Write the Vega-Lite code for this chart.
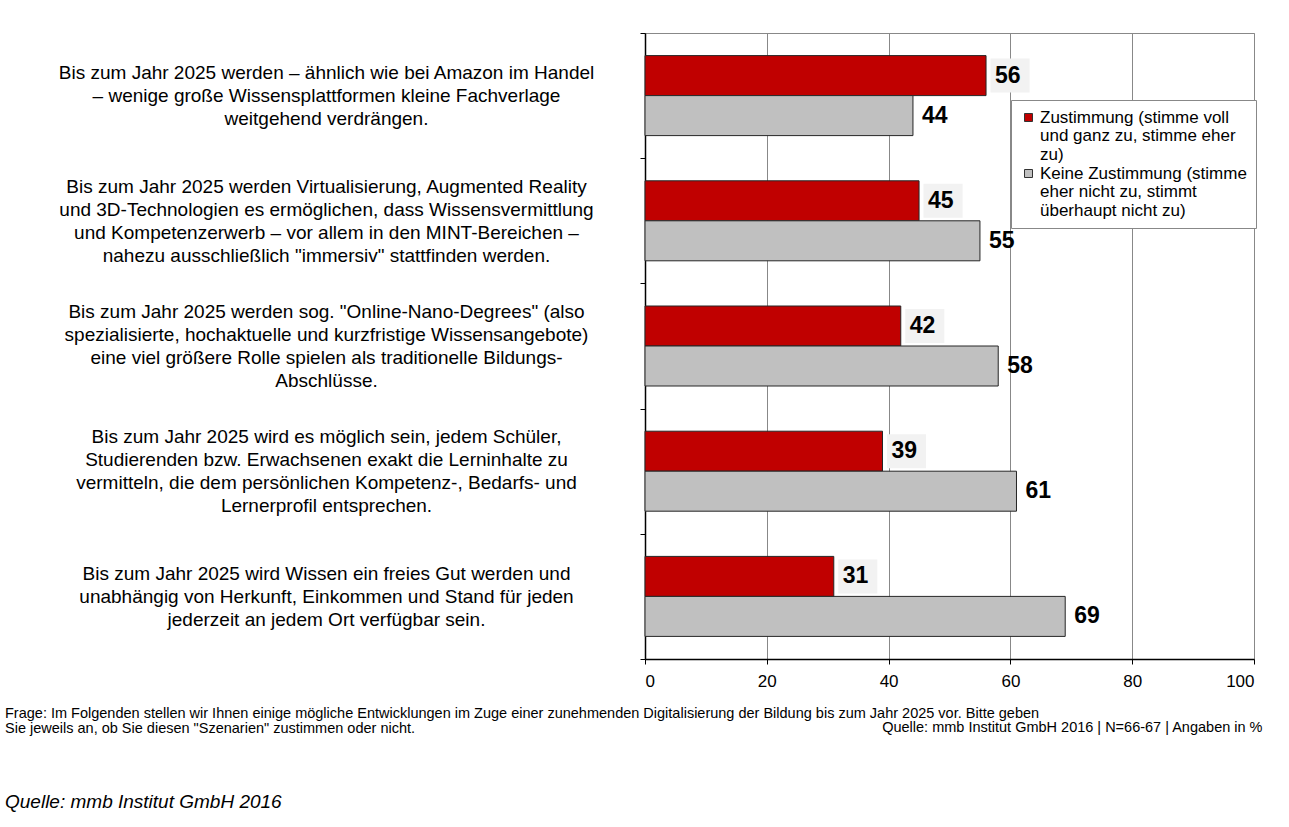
{
  "$schema": "https://vega.github.io/schema/vega-lite/v6.json",
  "width": 609,
  "height": 626,
  "autosize": {"type": "none"},
  "padding": {"left": 645, "top": 33, "right": 35, "bottom": 168},
  "background": "white",
  "config": {
    "font": "Liberation Sans",
    "view": {"stroke": "#888888", "strokeWidth": 1},
    "style": {"guide-label": {"lineHeight": 18.5}}
  },
  "title": {
    "text": ["Frage: Im Folgenden stellen wir Ihnen einige mögliche Entwicklungen im Zuge einer zunehmenden Digitalisierung der Bildung bis zum Jahr 2025 vor. Bitte geben", "Sie jeweils an, ob Sie diesen \"Szenarien\" zustimmen oder nicht."],
    "orient": "bottom",
    "anchor": "start",
    "frame": "group",
    "dx": -640,
    "offset": -27,
    "fontSize": 14.5,
    "fontWeight": "normal",
    "lineHeight": 15,
    "color": "#000000",
    "subtitle": "Quelle: mmb Institut GmbH 2016",
    "subtitleFont": "Liberation Sans",
    "subtitleFontStyle": "italic",
    "subtitleFontSize": 19,
    "subtitleColor": "#000000",
    "subtitlePadding": 57
  },
  "data": {
    "values": [
      {"statement": "Bis zum Jahr 2025 werden – ähnlich wie bei Amazon im Handel|– wenige große Wissensplattformen kleine Fachverlage|weitgehend verdrängen.", "series": "Zustimmung", "value": 56},
      {"statement": "Bis zum Jahr 2025 werden – ähnlich wie bei Amazon im Handel|– wenige große Wissensplattformen kleine Fachverlage|weitgehend verdrängen.", "series": "Keine Zustimmung", "value": 44},
      {"statement": "Bis zum Jahr 2025 werden Virtualisierung, Augmented Reality|und 3D-Technologien es ermöglichen, dass Wissensvermittlung|und Kompetenzerwerb – vor allem in den MINT-Bereichen –|nahezu ausschließlich \"immersiv\" stattfinden werden.", "series": "Zustimmung", "value": 45},
      {"statement": "Bis zum Jahr 2025 werden Virtualisierung, Augmented Reality|und 3D-Technologien es ermöglichen, dass Wissensvermittlung|und Kompetenzerwerb – vor allem in den MINT-Bereichen –|nahezu ausschließlich \"immersiv\" stattfinden werden.", "series": "Keine Zustimmung", "value": 55},
      {"statement": "Bis zum Jahr 2025 werden sog. \"Online-Nano-Degrees\" (also|spezialisierte, hochaktuelle und kurzfristige Wissensangebote)|eine viel größere Rolle spielen als traditionelle Bildungs-|Abschlüsse.", "series": "Zustimmung", "value": 42},
      {"statement": "Bis zum Jahr 2025 werden sog. \"Online-Nano-Degrees\" (also|spezialisierte, hochaktuelle und kurzfristige Wissensangebote)|eine viel größere Rolle spielen als traditionelle Bildungs-|Abschlüsse.", "series": "Keine Zustimmung", "value": 58},
      {"statement": "Bis zum Jahr 2025 wird es möglich sein, jedem Schüler,|Studierenden bzw. Erwachsenen exakt die Lerninhalte zu|vermitteln, die dem persönlichen Kompetenz-, Bedarfs- und|Lernerprofil entsprechen.", "series": "Zustimmung", "value": 39},
      {"statement": "Bis zum Jahr 2025 wird es möglich sein, jedem Schüler,|Studierenden bzw. Erwachsenen exakt die Lerninhalte zu|vermitteln, die dem persönlichen Kompetenz-, Bedarfs- und|Lernerprofil entsprechen.", "series": "Keine Zustimmung", "value": 61},
      {"statement": "Bis zum Jahr 2025 wird Wissen ein freies Gut werden und|unabhängig von Herkunft, Einkommen und Stand für jeden|jederzeit an jedem Ort verfügbar sein.", "series": "Zustimmung", "value": 31},
      {"statement": "Bis zum Jahr 2025 wird Wissen ein freies Gut werden und|unabhängig von Herkunft, Einkommen und Stand für jeden|jederzeit an jedem Ort verfügbar sein.", "series": "Keine Zustimmung", "value": 69}
    ]
  },
  "encoding": {
    "y": {
      "field": "statement",
      "type": "nominal",
      "sort": null,
      "scale": {"paddingInner": 0, "paddingOuter": 0},
      "axis": {
        "title": null,
        "labelExpr": "split(datum.label, '|')",
        "labelAlign": "center",
        "labelBaseline": "middle",
        "labelOffset": {"condition": {"test": "length(split(datum.value, '|')) == 4", "value": -34.5}, "value": -23},
        "labelPadding": 314,
        "labelFontSize": 19,
        "labelLineHeight": 23,
        "labelLimit": 0,
        "labelColor": "#000000",
        "tickBand": "extent",
        "tickSize": 5,
        "tickColor": "#000000",
        "domainColor": "#000000",
        "domainWidth": 1.5,
        "grid": false
      }
    },
    "yOffset": {
      "field": "series",
      "type": "nominal",
      "sort": ["Zustimmung", "Keine Zustimmung"],
      "scale": {"paddingInner": 0, "paddingOuter": 0.565}
    },
    "x": {
      "field": "value",
      "type": "quantitative",
      "scale": {"domain": [0, 100]},
      "axis": {
        "values": [0, 20, 40, 60, 80, 100],
        "grid": true,
        "gridColor": "#888888",
        "gridWidth": 1,
        "domainColor": "#000000",
        "domainWidth": 1.5,
        "tickColor": "#000000",
        "tickSize": 5,
        "labelFontSize": 17,
        "labelPadding": 9,
        "labelColor": "#000000",
        "title": "Quelle: mmb Institut GmbH 2016 | N=66-67  | Angaben in %",
        "titleX": 617,
        "titleY": 68,
        "titleAlign": "right",
        "titleAnchor": "end",
        "titleBaseline": "middle",
        "titleFontSize": 14.5,
        "titleFontWeight": "normal",
        "titleColor": "#000000"
      }
    }
  },
  "layer": [
    {
      "mark": {"type": "bar", "stroke": "#262626", "strokeWidth": 1},
      "encoding": {
        "color": {
          "field": "series",
          "type": "nominal",
          "scale": {"domain": ["Zustimmung", "Keine Zustimmung"], "range": ["#C00000", "#C0C0C0"]},
          "legend": {
            "orient": "none",
            "legendX": 366,
            "legendY": 67,
            "direction": "vertical",
            "title": null,
            "symbolType": "square",
            "symbolSize": 64,
            "symbolStrokeColor": "#333333",
            "symbolStrokeWidth": 1,
            "symbolOffset": 0,
            "labelFontSize": 17,
            "labelColor": "#000000",
            "labelLimit": 400,
            "labelOffset": 3,
            "strokeColor": "#888888",
            "fillColor": "#ffffff",
            "padding": 9,
            "rowPadding": 1,
            "labelExpr": "datum.label == 'Zustimmung' ? ['Zustimmung (stimme voll', 'und ganz zu, stimme eher', 'zu)'] : ['Keine Zustimmung (stimme', 'eher nicht zu, stimmt', 'überhaupt nicht zu)']"
          }
        }
      }
    },
    {
      "transform": [{"filter": "datum.series == 'Zustimmung'"}],
      "mark": {
        "type": "point",
        "shape": "M-1.15,-1L1.15,-1L1.15,1L-1.15,1Z",
        "size": 1156,
        "filled": true,
        "opacity": 1,
        "color": "#F2F2F2",
        "strokeWidth": 0,
        "xOffset": 24
      }
    },
    {
      "mark": {
        "type": "text",
        "align": "left",
        "baseline": "middle",
        "dx": 9,
        "fontSize": 23,
        "fontWeight": "bold",
        "color": "#000000"
      },
      "encoding": {"text": {"field": "value", "type": "quantitative"}}
    }
  ]
}
